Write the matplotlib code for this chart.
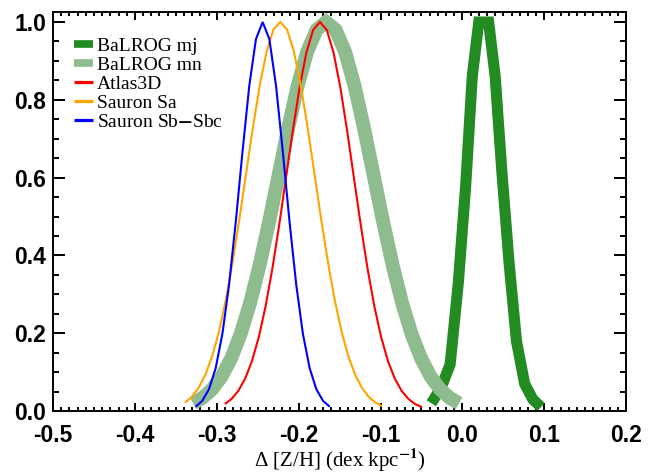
import matplotlib
matplotlib.use("Agg")
import matplotlib.pyplot as plt
from matplotlib.lines import Line2D
from matplotlib.ticker import MultipleLocator, FuncFormatter

plt.rcParams["axes.unicode_minus"] = False
plt.rcParams["mathtext.fontset"] = "stix"
plt.rcParams["font.family"] = "Liberation Sans"
plt.rcParams["font.weight"] = "bold"

# ---- data (normalised distributions) ----
mj_x = [-0.038, -0.026, -0.015, -0.005, 0.004, 0.012, 0.020, 0.032, 0.040,
        0.048, 0.057, 0.066, 0.076, 0.086, 0.096]
mj_y = [0.02, 0.06, 0.12, 0.33, 0.58, 0.86, 1.00, 1.00, 0.86,
        0.62, 0.38, 0.18, 0.07, 0.03, 0.01]

mn_x = [-0.3289, -0.3173, -0.3057, -0.2941, -0.2825, -0.2709, -0.2593, -0.2477,
        -0.2361, -0.2245, -0.2129, -0.2013, -0.1897, -0.1781, -0.1665, -0.1549,
        -0.1433, -0.1317, -0.1201, -0.1085, -0.0969, -0.0853, -0.0737, -0.0621,
        -0.0505, -0.0389, -0.0273, -0.0157, -0.0041]
mn_y = [0.0198, 0.0340, 0.0561, 0.0889, 0.1353, 0.1979, 0.2780, 0.3753,
        0.4868, 0.6065, 0.7261, 0.8353, 0.9231, 0.9802, 1.0000, 0.9802,
        0.9231, 0.8353, 0.7261, 0.6065, 0.4868, 0.3753, 0.2780, 0.1979,
        0.1353, 0.0889, 0.0561, 0.0340, 0.0198]

atlas_x = [-0.2902, -0.2819, -0.2736, -0.2653, -0.2570, -0.2487, -0.2404, -0.2321,
           -0.2238, -0.2155, -0.2072, -0.1989, -0.1906, -0.1823, -0.1740, -0.1657,
           -0.1574, -0.1491, -0.1408, -0.1325, -0.1242, -0.1159, -0.1076, -0.0993,
           -0.0910, -0.0827, -0.0744, -0.0661, -0.0578, -0.0495]
atlas_y = [0.0180, 0.0313, 0.0523, 0.0838, 0.1288, 0.1902, 0.2695, 0.3664,
           0.4783, 0.5991, 0.7205, 0.8316, 0.9213, 0.9797, 1.0000, 0.9797,
           0.9213, 0.8316, 0.7205, 0.5991, 0.4783, 0.3664, 0.2695, 0.1902,
           0.1288, 0.0838, 0.0523, 0.0313, 0.0180, 0.0100]

sa_x = [-0.3387, -0.3304, -0.3221, -0.3138, -0.3055, -0.2972, -0.2889, -0.2806,
        -0.2723, -0.2640, -0.2557, -0.2474, -0.2391, -0.2308, -0.2225, -0.2142,
        -0.2059, -0.1976, -0.1893, -0.1810, -0.1727, -0.1644, -0.1561, -0.1478,
        -0.1395, -0.1312, -0.1229, -0.1146, -0.1063, -0.0980]
sa_y = [0.0218, 0.0369, 0.0601, 0.0942, 0.1420, 0.2057, 0.2866, 0.3842,
        0.4951, 0.6138, 0.7317, 0.8389, 0.9249, 0.9807, 1.0000, 0.9807,
        0.9249, 0.8389, 0.7317, 0.6138, 0.4951, 0.3842, 0.2866, 0.2057,
        0.1420, 0.0942, 0.0601, 0.0369, 0.0218, 0.0124]

sb_x = [-0.3260, -0.3178, -0.3096, -0.3014, -0.2932, -0.2850, -0.2768, -0.2686,
        -0.2604, -0.2522, -0.2440, -0.2358, -0.2276, -0.2194, -0.2112, -0.2030,
        -0.1948, -0.1866, -0.1784, -0.1702, -0.1620]
sb_y = [0.011, 0.026, 0.056, 0.110, 0.198, 0.325, 0.487, 0.667,
        0.835, 0.956, 1.000, 0.956, 0.835, 0.667, 0.487, 0.325,
        0.198, 0.110, 0.056, 0.026, 0.011]

labels = ["BaLROG mj", "BaLROG mn", "Atlas3D", "Sauron Sa", "Sauron Sb$-$Sbc"]
colors = ["#228B22", "#8FBC8F", "#FF0000", "#FFA500", "#0000FF"]

fig = plt.figure(figsize=(6.55, 4.73), dpi=100)
ax = fig.add_axes([0.081, 0.131, 0.875, 0.843])

line_kw = dict(solid_capstyle="butt", solid_joinstyle="miter")
ax.plot(mj_x, mj_y, color=colors[0], lw=8, **line_kw)
ax.plot(mn_x, mn_y, color=colors[1], lw=10, **line_kw)
ax.plot(atlas_x, atlas_y, color=colors[2], lw=1.5, **line_kw)
ax.plot(sa_x, sa_y, color=colors[3], lw=1.5, **line_kw)
ax.plot(sb_x, sb_y, color=colors[4], lw=1.5, **line_kw)

ax.set_xlim(-0.5, 0.2)
ax.set_ylim(0, 1.025)

ax.xaxis.set_major_locator(MultipleLocator(0.1))
ax.xaxis.set_minor_locator(MultipleLocator(0.01))
ax.yaxis.set_major_locator(MultipleLocator(0.2))
ax.yaxis.set_minor_locator(MultipleLocator(0.05))
fmt = FuncFormatter(lambda v, p: "%.1f" % (0.0 if abs(v) < 1e-9 else v))
ax.xaxis.set_major_formatter(fmt)
ax.yaxis.set_major_formatter(fmt)

ax.tick_params(which="both", direction="in", top=True, right=True, width=1.4,
               labelsize=16.5)
ax.tick_params(axis="x", which="major", length=5.5, pad=9)
ax.tick_params(axis="x", which="minor", length=2.9)
ax.tick_params(axis="y", which="major", length=8.4, pad=5)
ax.tick_params(axis="y", which="minor", length=4.3)
for sp in ax.spines.values():
    sp.set_linewidth(1.4)

ax.set_xlabel("Δ [Z/H] (dex kpc$^{-1}$)", family="Liberation Serif",
              fontweight="normal", fontsize=15, labelpad=0)

handles = [Line2D([], [], color=colors[0], lw=5.5, solid_capstyle="butt"),
           Line2D([], [], color=colors[1], lw=5.5, solid_capstyle="butt"),
           Line2D([], [], color=colors[2], lw=2.3, solid_capstyle="butt"),
           Line2D([], [], color=colors[3], lw=2.3, solid_capstyle="butt"),
           Line2D([], [], color=colors[4], lw=2.3, solid_capstyle="butt")]
ax.legend(handles, labels, loc="upper left", bbox_to_anchor=(0.036, 0.937),
          frameon=False, borderpad=0, borderaxespad=0, handlelength=1.0,
          handletextpad=0.18, labelspacing=0.07,
          prop={"family": "Liberation Serif", "weight": "normal", "size": 14})

plt.savefig("out.png", dpi=100)
